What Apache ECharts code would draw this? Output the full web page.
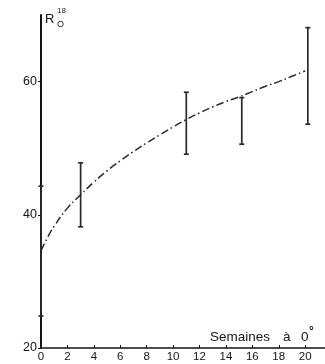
<!DOCTYPE html>
<html><head><meta charset="utf-8">
<script src="https://cdn.jsdelivr.net/npm/echarts@6/dist/echarts.min.js"></script>
<style>html,body{margin:0;padding:0;background:#fff}#c{width:325px;height:364px}</style>
</head><body><div id="c"></div>
<script>
// error bars: [week, low, high]
var barWeeks = [0, 3, 11, 15.2, 20.2];
var barLow = [24.8, 38.2, 49.1, 50.6, 53.6];
var barHigh = [44.3, 47.8, 58.4, 57.6, 68.1];
// fitted curve
var curveX = [0, 0.5, 1, 2, 3, 4, 5, 6, 7, 8, 9, 10, 11, 12, 13, 14, 15, 16, 17, 18, 19, 20];
var curveY = [34.6, 36.6, 38.3, 41.0, 43.0, 44.9, 46.6, 48.1, 49.5, 50.8, 52.0, 53.2, 54.3, 55.3, 56.2, 57.0, 57.7, 58.5, 59.3, 60.0, 60.8, 61.6];
var xTicks = [0, 2, 4, 6, 8, 10, 12, 14, 16, 18, 20];
var yTicks = [20, 40, 60];

var chart = echarts.init(document.getElementById('c'));
var font = 'Liberation Sans';
var ink = '#151515';
chart.setOption({
  animation: false,
  grid: {left: 41, right: 0, top: 15, bottom: 16},
  xAxis: {
    type: 'value', min: 0, max: 21.5, interval: 2,
    axisLine: {lineStyle: {color: ink, width: 1.5}},
    axisTick: {inside: true, length: 3, lineStyle: {color: ink}},
    splitLine: {show: false},
    axisLabel: {color: ink, fontFamily: font, fontSize: 11.5, margin: 3, showMaxLabel: false,
      formatter: function (v) { return xTicks.indexOf(v) >= 0 ? String(v) : ''; }}
  },
  yAxis: {
    type: 'value', min: 20, max: 70, interval: 20,
    axisLine: {lineStyle: {color: ink, width: 2}},
    axisTick: {show: true, length: 3, lineStyle: {color: ink}},
    splitLine: {show: false},
    axisLabel: {color: ink, fontFamily: font, fontSize: 12.5, margin: 4, showMaxLabel: false,
      formatter: function (v) { return yTicks.indexOf(v) >= 0 ? String(v) : ''; }}
  },
  series: [
    {
      type: 'line', smooth: true, symbol: 'none',
      data: curveX.map(function (x, i) { return [x, curveY[i]]; }),
      lineStyle: {color: '#2a2a2a', width: 1.5, type: [8, 3, 1.5, 3]}
    },
    {
      type: 'custom',
      data: barWeeks.map(function (x, i) { return [x, barLow[i], barHigh[i]]; }),
      renderItem: function (params, api) {
        var lo = api.coord([api.value(0), api.value(1)]);
        var hi = api.coord([api.value(0), api.value(2)]);
        var w = 2.5;
        var st = {stroke: '#2a2a2a', lineWidth: 1.7};
        return {type: 'group', children: [
          {type: 'line', shape: {x1: lo[0], y1: lo[1], x2: hi[0], y2: hi[1]}, style: st},
          {type: 'line', shape: {x1: lo[0] - w, y1: lo[1], x2: lo[0] + w, y2: lo[1]}, style: st},
          {type: 'line', shape: {x1: hi[0] - w, y1: hi[1], x2: hi[0] + w, y2: hi[1]}, style: st}
        ]};
      }
    }
  ],
  graphic: [
    {type: 'text', left: 45, top: 13, style: {text: 'R', fontFamily: font, fontSize: 13, fill: ink}},
    {type: 'text', left: 57, top: 7, style: {text: '18', fontFamily: font, fontSize: 8, fill: ink}},
    {type: 'text', left: 57, top: 20, style: {text: 'O', fontFamily: font, fontSize: 9, fill: ink}},
    {type: 'text', left: 210, top: 330, style: {text: 'Semaines', fontFamily: font, fontSize: 13.5, fill: ink}},
    {type: 'text', left: 283, top: 330, style: {text: 'à', fontFamily: font, fontSize: 13.5, fill: ink}},
    {type: 'text', left: 301, top: 330, style: {text: '0', fontFamily: font, fontSize: 13.5, fill: ink}},
    {type: 'text', left: 309, top: 326, style: {text: '°', fontFamily: font, fontSize: 12, fontWeight: 'bold', fill: ink}}
  ]
});
</script></body></html>
